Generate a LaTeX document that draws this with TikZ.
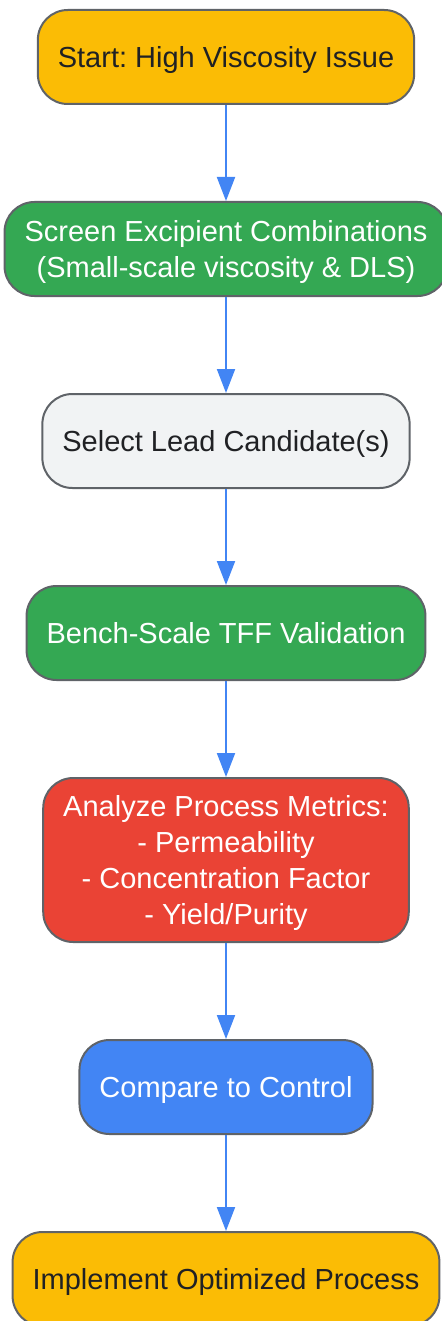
\documentclass[tikz,border=0pt]{standalone}
\usepackage{fontspec}
\setmainfont{Liberation Sans}
\usepackage{xcolor}
\usepackage{tikz}
\usetikzlibrary{positioning,arrows.meta}
\frenchspacing

\definecolor{gyellow}{HTML}{FBBC05}
\definecolor{ggreen}{HTML}{34A853}
\definecolor{glight}{HTML}{F1F3F4}
\definecolor{gred}{HTML}{EA4335}
\definecolor{gblue}{HTML}{4285F4}
\definecolor{gborder}{HTML}{5F6368}
\definecolor{gtext}{HTML}{202124}

\begin{document}
\begin{tikzpicture}[node distance=48pt,
    box/.style={draw=gborder, line width=1pt, rounded corners=15pt, minimum height=47pt,
      inner xsep=10pt, text depth=0pt, align=center, font=\fontsize{14.5}{18}\selectfont},
    flow/.style={-{Triangle[length=12pt,width=9pt]}, line width=1pt, color=gblue}]
    \useasboundingbox (-113pt,28.5pt) rectangle (108pt,-632pt);
    \node[box, fill=gyellow, text=gtext] (start) {Start: High Viscosity Issue};
    \node[box, fill=ggreen, text=white, below=of start] (screen) {Screen Excipient Combinations\\(Small-scale viscosity \& DLS)};
    \node[box, fill=glight, text=gtext, below=of screen] (select) {Select Lead Candidate(s)};
    \node[box, fill=ggreen, text=white, below=of select] (bench) {Bench-Scale TFF Validation};
    \node[box, fill=gred, text=white, minimum height=82pt, below=of bench] (analyze) {Analyze Process Metrics:\\- Permeability\\- Concentration Factor\\- Yield/Purity};
    \node[box, fill=gblue, text=white, below=of analyze] (compare) {Compare to Control};
    \node[box, fill=gyellow, text=gtext, below=of compare] (implement) {Implement Optimized Process};
    \draw[flow] (start) -- (screen);
    \draw[flow] (screen) -- (select);
    \draw[flow] (select) -- (bench);
    \draw[flow] (bench) -- (analyze);
    \draw[flow] (analyze) -- (compare);
    \draw[flow] (compare) -- (implement);
\end{tikzpicture}
\end{document}
